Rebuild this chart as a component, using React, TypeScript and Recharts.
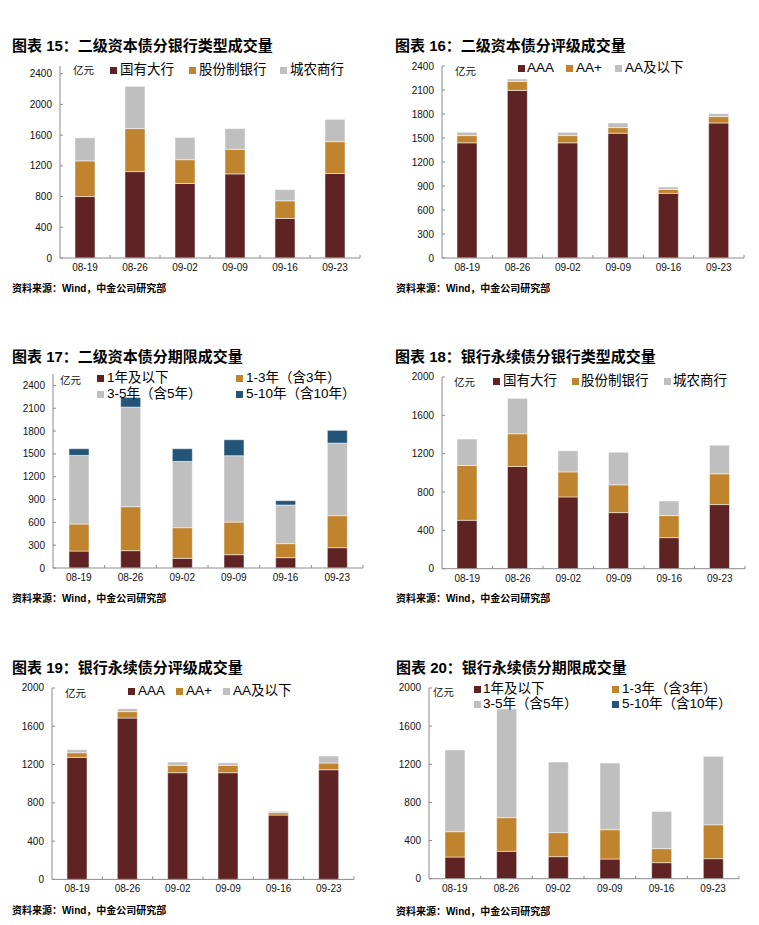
import React from 'react';
import { BarChart, Bar, XAxis, YAxis } from 'recharts';

// ---------- data ----------
const dates = ['08-19', '08-26', '09-02', '09-09', '09-16', '09-23'];

// 图表15 二级资本债分银行类型
const t2BankBig = [800, 1125, 970, 1095, 515, 1100];
const t2BankJoint = [465, 560, 310, 320, 230, 415];
const t2BankCity = [300, 550, 290, 270, 145, 290];

// 图表16 二级资本债分评级
const t2RatingAAA = [1440, 2095, 1440, 1560, 808, 1688];
const t2RatingAAp = [90, 113, 90, 70, 50, 80];
const t2RatingAAm = [42, 30, 42, 58, 30, 37];

// 图表17 二级资本债分期限
const t2Term1 = [223, 228, 127, 175, 136, 267];
const t2Term13 = [355, 578, 403, 429, 184, 421];
const t2Term35 = [902, 1309, 871, 872, 508, 954];
const t2Term510 = [88, 127, 167, 210, 57, 167];

// 图表18 银行永续债分银行类型
const ppBankBig = [505, 1066, 749, 585, 324, 669];
const ppBankJoint = [572, 342, 261, 290, 230, 321];
const ppBankCity = [275, 369, 220, 341, 153, 299];

// 图表19 银行永续债分评级
const ppRatingAAA = [1275, 1686, 1115, 1115, 672, 1146];
const ppRatingAAp = [49, 67, 77, 77, 25, 70];
const ppRatingAAm = [31, 31, 34, 28, 14, 73];

// 图表20 银行永续债分期限
const ppTerm1 = [227, 287, 231, 206, 168, 210];
const ppTerm13 = [266, 353, 252, 308, 147, 356];
const ppTerm35 = [857, 1140, 741, 699, 391, 717];
const ppTerm510 = [0, 0, 0, 0, 0, 0];

// tick labels
const ticks400to2400 = [0, 400, 800, 1200, 1600, 2000, 2400];
const ticks300to2400 = [0, 300, 600, 900, 1200, 1500, 1800, 2100, 2400];
const ticks400to2000 = [0, 400, 800, 1200, 1600, 2000];

// series names
const bankNames = ['国有大行', '股份制银行', '城农商行'];
const ratingNames = ['AAA', 'AA+', 'AA及以下'];
const termNames = ['1年及以下', '1-3年（含3年）', '3-5年（含5年）', '5-10年（含10年）'];

const titles = [
  '图表 15：二级资本债分银行类型成交量',
  '图表 16：二级资本债分评级成交量',
  '图表 17：二级资本债分期限成交量',
  '图表 18：银行永续债分银行类型成交量',
  '图表 19：银行永续债分评级成交量',
  '图表 20：银行永续债分期限成交量',
];
const sourceText = '资料来源：Wind，中金公司研究部';
const unitText = '亿元';

// ---------- styles ----------
const RED = '#5F2324';
const ORANGE = '#C0842F';
const GRAY = '#BFBFBF';
const BLUE = '#255479';
const AXIS = '#8C8C8C';
const FONT = '"Liberation Sans", Arial, "Noto Sans CJK SC", sans-serif';

const YW = 50;
const RM = 6;
const TM = 6;
const XH = 30;
const XMARGIN = 6;

type Series = { name: string; values: number[]; color: string };
type LegendItem = { sq: number; tx: number; y: number };
type PanelCfg = {
  title: string;
  titleX: number;
  titleY: number;
  srcX: number;
  srcY: number;
  plot: { l: number; r: number; t: number; b: number };
  max: number;
  ticks: number[];
  series: Series[];
  unit: { x: number; y: number };
  legend: LegendItem[];
};

const panels: PanelCfg[] = [
  {
    title: titles[0], titleX: 12, titleY: 46, srcX: 12, srcY: 289,
    plot: { l: 60, r: 360, t: 66, b: 258 }, max: 2500, ticks: ticks400to2400,
    series: [
      { name: bankNames[0], values: t2BankBig, color: RED },
      { name: bankNames[1], values: t2BankJoint, color: ORANGE },
      { name: bankNames[2], values: t2BankCity, color: GRAY },
    ],
    unit: { x: 73, y: 70 },
    legend: [{ sq: 110, tx: 120, y: 70 }, { sq: 189, tx: 199, y: 70 }, { sq: 280, tx: 290, y: 70 }],
  },
  {
    title: titles[1], titleX: 395, titleY: 46, srcX: 396, srcY: 289,
    plot: { l: 442, r: 744, t: 66, b: 258 }, max: 2400, ticks: ticks300to2400,
    series: [
      { name: ratingNames[0], values: t2RatingAAA, color: RED },
      { name: ratingNames[1], values: t2RatingAAp, color: ORANGE },
      { name: ratingNames[2], values: t2RatingAAm, color: GRAY },
    ],
    unit: { x: 455, y: 71 },
    legend: [{ sq: 518, tx: 527, y: 68 }, { sq: 566, tx: 576, y: 68 }, { sq: 615, tx: 625, y: 68 }],
  },
  {
    title: titles[2], titleX: 12, titleY: 357, srcX: 12, srcY: 599,
    plot: { l: 53, r: 363, t: 374, b: 568 }, max: 2550, ticks: ticks300to2400,
    series: [
      { name: termNames[0], values: t2Term1, color: RED },
      { name: termNames[1], values: t2Term13, color: ORANGE },
      { name: termNames[2], values: t2Term35, color: GRAY },
      { name: termNames[3], values: t2Term510, color: BLUE },
    ],
    unit: { x: 60, y: 380 },
    legend: [{ sq: 97, tx: 107, y: 378 }, { sq: 236, tx: 246, y: 378 }, { sq: 97, tx: 107, y: 394 }, { sq: 236, tx: 246, y: 394 }],
  },
  {
    title: titles[3], titleX: 395, titleY: 357, srcX: 396, srcY: 599,
    plot: { l: 442, r: 745, t: 377, b: 568.7 }, max: 2000, ticks: ticks400to2000,
    series: [
      { name: bankNames[0], values: ppBankBig, color: RED },
      { name: bankNames[1], values: ppBankJoint, color: ORANGE },
      { name: bankNames[2], values: ppBankCity, color: GRAY },
    ],
    unit: { x: 454, y: 382 },
    legend: [{ sq: 493, tx: 503, y: 381 }, { sq: 572, tx: 581, y: 381 }, { sq: 664, tx: 673, y: 381 }],
  },
  {
    title: titles[4], titleX: 12, titleY: 668, srcX: 12, srcY: 911,
    plot: { l: 52, r: 354, t: 688.3, b: 879.7 }, max: 2000, ticks: ticks400to2000,
    series: [
      { name: ratingNames[0], values: ppRatingAAA, color: RED },
      { name: ratingNames[1], values: ppRatingAAp, color: ORANGE },
      { name: ratingNames[2], values: ppRatingAAm, color: GRAY },
    ],
    unit: { x: 65, y: 693 },
    legend: [{ sq: 128, tx: 138, y: 691 }, { sq: 176, tx: 186, y: 691 }, { sq: 223, tx: 233, y: 691 }],
  },
  {
    title: titles[5], titleX: 396, titleY: 668, srcX: 396, srcY: 912,
    plot: { l: 429, r: 739, t: 688.3, b: 879 }, max: 2000, ticks: ticks400to2000,
    series: [
      { name: termNames[0], values: ppTerm1, color: RED },
      { name: termNames[1], values: ppTerm13, color: ORANGE },
      { name: termNames[2], values: ppTerm35, color: GRAY },
      { name: termNames[3], values: ppTerm510, color: BLUE },
    ],
    unit: { x: 433, y: 692 },
    legend: [{ sq: 474, tx: 483, y: 689 }, { sq: 612, tx: 622, y: 689 }, { sq: 474, tx: 483, y: 704 }, { sq: 612, tx: 622, y: 704 }],
  },
];

const YTick = (props: any) => {
  const { x, y, payload } = props;
  return (
    <g>
      <line x1={x} x2={x + 3} y1={y} y2={y} stroke={AXIS} strokeWidth={1} />
      <text x={x - 8} y={y} dy="0.35em" textAnchor="end" fontSize={10} fontFamily={FONT} fill="#111">
        {payload.value}
      </text>
    </g>
  );
};

const makeXTick = (bw: number) => (props: any) => {
  const { x, y, payload } = props;
  const ay = y - XMARGIN;
  return (
    <g>
      <line x1={x + bw / 2} x2={x + bw / 2} y1={ay} y2={ay - 3} stroke={AXIS} strokeWidth={1} />
      <text x={x} y={y} dy="0.71em" textAnchor="middle" fontSize={10} fontFamily={FONT} fill="#111">
        {payload.value}
      </text>
    </g>
  );
};

const Panel = ({ cfg }: { cfg: PanelCfg }) => {
  const pw = cfg.plot.r - cfg.plot.l;
  const ph = cfg.plot.b - cfg.plot.t;
  const width = pw + YW + RM;
  const height = ph + TM + XH;
  const data = dates.map((d, i) => {
    const row: any = { date: d };
    cfg.series.forEach((s, k) => {
      row['s' + k] = s.values[i];
    });
    return row;
  });
  const bw = pw / dates.length;
  return (
    <>
      <div
        style={{
          position: 'absolute', left: cfg.titleX, top: cfg.titleY - 9, fontSize: 15, lineHeight: '18px',
          fontWeight: 700, fontFamily: FONT, color: '#000', whiteSpace: 'nowrap',
        }}
      >
        {cfg.title}
      </div>
      <div style={{ position: 'absolute', left: cfg.plot.l - YW, top: cfg.plot.t - TM }}>
        <BarChart width={width} height={height} data={data} margin={{ top: TM, right: RM, left: 0, bottom: 0 }}>
          <XAxis
            dataKey="date"
            height={XH}
            axisLine={{ stroke: AXIS, strokeWidth: 1 }}
            tickLine={false}
            tickSize={0}
            tickMargin={XMARGIN}
            interval={0}
            tick={makeXTick(bw)}
          />
          <YAxis
            type="number"
            width={YW}
            domain={[0, cfg.max]}
            ticks={cfg.ticks}
            interval={0}
            allowDataOverflow
            axisLine={{ stroke: AXIS, strokeWidth: 1 }}
            tickLine={false}
            tickSize={0}
            tickMargin={0}
            tick={<YTick />}
          />
          {cfg.series.map((s, k) => (
            <Bar
              key={s.name}
              dataKey={'s' + k}
              name={s.name}
              stackId="a"
              fill={s.color}
              barSize={20}
              stroke="#ffffff"
              strokeWidth={0.5}
              isAnimationActive={false}
            />
          ))}
        </BarChart>
      </div>
      <div
        style={{
          position: 'absolute', left: cfg.unit.x, top: cfg.unit.y - 7, fontSize: 10.5, lineHeight: '14px',
          fontFamily: FONT, color: '#111', whiteSpace: 'nowrap',
        }}
      >
        {unitText}
      </div>
      {cfg.series.map((s, k) => {
        const it = cfg.legend[k];
        return (
          <React.Fragment key={s.name}>
            <div
              style={{
                position: 'absolute', left: it.sq, top: it.y - 3.5, width: 7, height: 7, background: s.color,
              }}
            />
            <div
              style={{
                position: 'absolute', left: it.tx, top: it.y - 9, fontSize: 13.5, lineHeight: '18px',
                fontFamily: FONT, color: '#000', whiteSpace: 'nowrap',
              }}
            >
              {s.name}
            </div>
          </React.Fragment>
        );
      })}
      <div
        style={{
          position: 'absolute', left: cfg.srcX, top: cfg.srcY - 7, fontSize: 10, lineHeight: '14px',
          fontWeight: 700, fontFamily: FONT, color: '#000', whiteSpace: 'nowrap',
        }}
      >
        {sourceText}
      </div>
    </>
  );
};

export default function App() {
  return (
    <div style={{ position: 'absolute', left: 0, top: 0, width: 759, height: 925, background: '#fff', overflow: 'hidden' }}>
      {panels.map((p) => (
        <Panel key={p.title} cfg={p} />
      ))}
    </div>
  );
}
